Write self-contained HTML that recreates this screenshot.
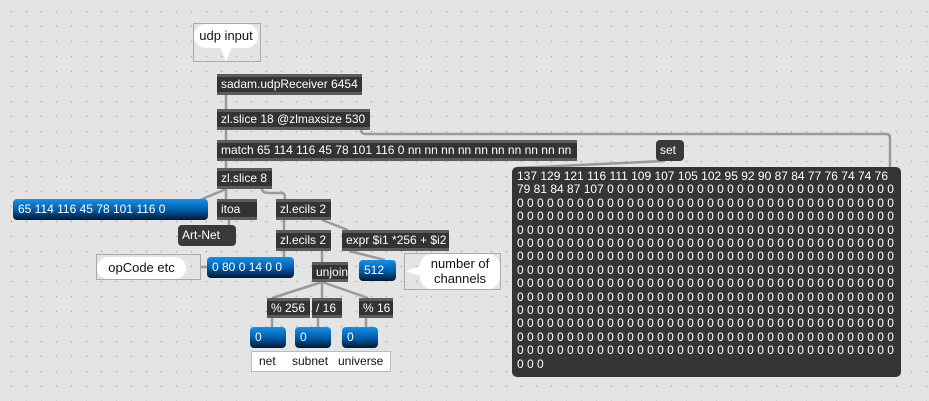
<!DOCTYPE html>
<html><head><meta charset="utf-8"><style>
body{margin:0;width:929px;height:401px;overflow:hidden;background-color:#e4e4e4;
background-image:radial-gradient(circle,#b0b0b0 0.7px,transparent 1px);background-size:15px 15px;background-position:4px 4px;
font-family:"Liberation Sans",sans-serif;font-size:12px;position:relative}
.o{position:absolute;background:#333;color:#fff;height:15px;line-height:15px;padding-left:4px;border-top:3px solid #5c5c5c;border-bottom:3px solid #5c5c5c;box-sizing:content-box;white-space:nowrap}
.m{position:absolute;background:#3a3a3a;color:#fff;border-radius:4px;padding-left:4px;line-height:21px;height:21px;white-space:nowrap}
.n{position:absolute;background:linear-gradient(#1a8ee0,#0060b0 50%,#001a35);color:#fff;border-radius:4px;padding-left:5px;height:21px;line-height:21px;white-space:nowrap}
.c{position:absolute;border:1px solid #aaa;background:transparent}
.b{position:absolute;background:#fff;border-radius:12px;color:#111;text-align:center;font-size:13px}
svg{position:absolute;left:0;top:0}
</style></head><body>
<svg width="929" height="401"><g stroke="#999" stroke-width="2.5" fill="none">
<path d="M226 95V109M226 130V140M226 161V168"/>
<path d="M361 130 Q361 134 366 134 H886 Q890 134 890 138 V167"/>
<path d="M226 189V199M226 189 L200 200M262 189 Q262 193 270 193 L282 193 Q285 193 285 199"/>
<path d="M229 220V225M284 220V230M322 220 L348 230M284 251V257M322 251V262M349 251 L385 260"/>
<path d="M322 282 L272 298M322 282V298M322 282 L368 298M272 318V327M318 318V327M366 318V327"/>
<path d="M665 161 L517 168"/>
<path d="M200 267H208"/>
</g></svg>
<div class="c" style="left:193px;top:23px;width:66px;height:37px"></div>
<div class="b" style="left:194px;top:24px;width:64px;height:24px;line-height:24px">udp input</div>
<div style="position:absolute;left:220px;top:47px;width:0;height:0;border-left:6px solid transparent;border-right:6px solid transparent;border-top:14px solid #fff"></div>
<div class="o" style="left:217px;top:74px;width:141px">sadam.udpReceiver 6454</div>
<div class="o" style="left:217px;top:109px;width:149px">zl.slice 18 @zlmaxsize 530</div>
<div class="o" style="left:217px;top:140px;width:356px">match 65 114 116 45 78 101 116 0 nn nn nn nn nn nn nn nn nn nn</div>
<div class="o" style="left:217px;top:168px;width:51px">zl.slice 8</div>
<div class="n" style="left:13px;top:199px;width:190px">65 114 116 45 78 101 116 0</div>
<div class="o" style="left:217px;top:199px;width:36px">itoa</div>
<div class="o" style="left:276px;top:199px;width:51px">zl.ecils 2</div>
<div class="m" style="left:178px;top:225px;width:54px">Art-Net</div>
<div class="o" style="left:276px;top:230px;width:51px">zl.ecils 2</div>
<div class="o" style="left:342px;top:230px;width:103px">expr $i1 *256 + $i2</div>
<div class="c" style="left:96px;top:254px;width:103px;height:24px"></div>
<div class="b" style="left:97px;top:257px;width:89px;height:22px;line-height:22px">opCode etc</div>
<div class="n" style="left:207px;top:257px;width:82px">0 80 0 14 0 0</div>
<div class="o" style="left:312px;top:262px;width:32px;height:14px;line-height:14px">unjoin</div>
<div class="n" style="left:359px;top:260px;width:32px">512</div>
<div class="c" style="left:404px;top:253px;width:95px;height:35px"></div>
<div class="b" style="left:420px;top:254px;width:80px;height:35px;line-height:15px;padding-top:2px;box-sizing:border-box">number of<br>channels</div>
<div style="position:absolute;left:406px;top:266px;border-top:5px solid transparent;border-bottom:5px solid transparent;border-right:14px solid #fff"></div>
<div class="o" style="left:267px;top:298px;width:39px;height:14px;line-height:14px">% 256</div>
<div class="o" style="left:312px;top:298px;width:26px;height:14px;line-height:14px">/ 16</div>
<div class="o" style="left:359px;top:298px;width:30px;height:14px;line-height:14px">% 16</div>
<div class="n" style="left:250px;top:327px;width:31px">0</div>
<div class="n" style="left:295px;top:327px;width:31px">0</div>
<div class="n" style="left:342px;top:327px;width:31px">0</div>
<div style="position:absolute;left:251px;top:351px;width:138px;height:19px;background:#fff;border:1px solid #bbb;line-height:19px;color:#111;font-size:12px"><span style="position:absolute;left:7px">net</span><span style="position:absolute;left:40px">subnet</span><span style="position:absolute;left:86px">universe</span></div>
<div class="m" style="left:656px;top:140px;width:24px">set</div>
<div style="position:absolute;left:512px;top:167px;width:389px;height:210px;background:#353535;border-radius:5px;color:#fff;padding:3px 0 0 5px;box-sizing:border-box;line-height:13.4px;white-space:pre;overflow:hidden">137 129 121 116 111 109 107 105 102 95 92 90 87 84 77 76 74 74 76
79 81 84 87 107 0 0 0 0 0 0 0 0 0 0 0 0 0 0 0 0 0 0 0 0 0 0 0 0 0 0 0 0 0
0 0 0 0 0 0 0 0 0 0 0 0 0 0 0 0 0 0 0 0 0 0 0 0 0 0 0 0 0 0 0 0 0 0 0 0 0 0
0 0 0 0 0 0 0 0 0 0 0 0 0 0 0 0 0 0 0 0 0 0 0 0 0 0 0 0 0 0 0 0 0 0 0 0 0 0
0 0 0 0 0 0 0 0 0 0 0 0 0 0 0 0 0 0 0 0 0 0 0 0 0 0 0 0 0 0 0 0 0 0 0 0 0 0
0 0 0 0 0 0 0 0 0 0 0 0 0 0 0 0 0 0 0 0 0 0 0 0 0 0 0 0 0 0 0 0 0 0 0 0 0 0
0 0 0 0 0 0 0 0 0 0 0 0 0 0 0 0 0 0 0 0 0 0 0 0 0 0 0 0 0 0 0 0 0 0 0 0 0 0
0 0 0 0 0 0 0 0 0 0 0 0 0 0 0 0 0 0 0 0 0 0 0 0 0 0 0 0 0 0 0 0 0 0 0 0 0 0
0 0 0 0 0 0 0 0 0 0 0 0 0 0 0 0 0 0 0 0 0 0 0 0 0 0 0 0 0 0 0 0 0 0 0 0 0 0
0 0 0 0 0 0 0 0 0 0 0 0 0 0 0 0 0 0 0 0 0 0 0 0 0 0 0 0 0 0 0 0 0 0 0 0 0 0
0 0 0 0 0 0 0 0 0 0 0 0 0 0 0 0 0 0 0 0 0 0 0 0 0 0 0 0 0 0 0 0 0 0 0 0 0 0
0 0 0 0 0 0 0 0 0 0 0 0 0 0 0 0 0 0 0 0 0 0 0 0 0 0 0 0 0 0 0 0 0 0 0 0 0 0
0 0 0 0 0 0 0 0 0 0 0 0 0 0 0 0 0 0 0 0 0 0 0 0 0 0 0 0 0 0 0 0 0 0 0 0 0 0
0 0 0 0 0 0 0 0 0 0 0 0 0 0 0 0 0 0 0 0 0 0 0 0 0 0 0 0 0 0 0 0 0 0 0 0 0 0
0 0 0</div>
</body></html>
